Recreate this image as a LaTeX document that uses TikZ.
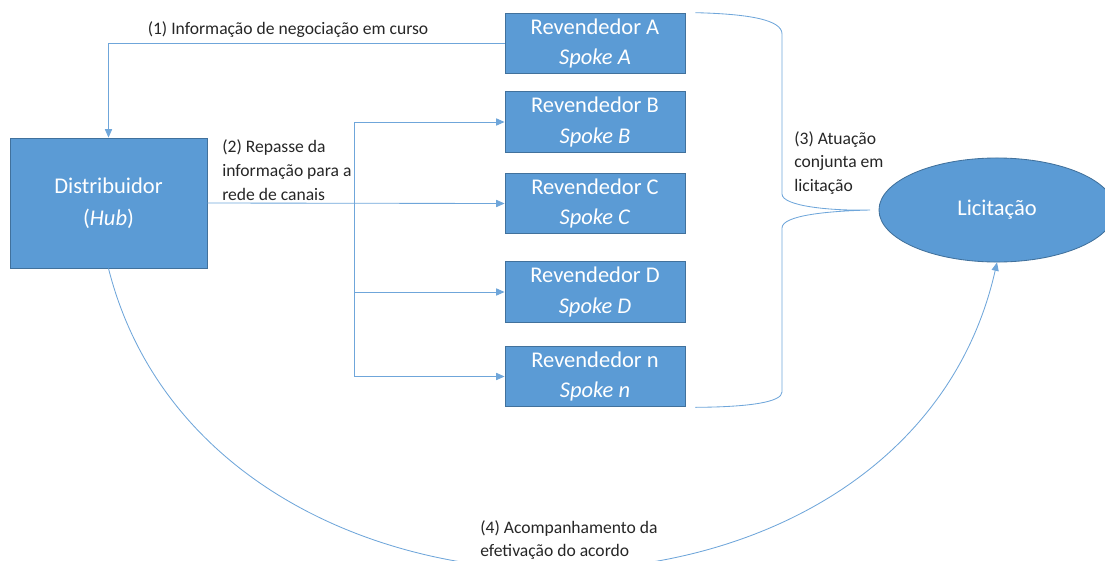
\documentclass[tikz,border=0pt]{standalone}
\usepackage{fontspec}
\setmainfont{Carlito}
\usepackage{tikz}
\usetikzlibrary{positioning,arrows.meta,shapes.geometric,calc}
\definecolor{officeblue}{HTML}{5B9BD5}
\definecolor{officeedge}{HTML}{41719C}
\definecolor{lineblue}{HTML}{6FA6DA}
\definecolor{labelink}{HTML}{262626}
\tikzset{
  hs/.style={align=center, text=white, inner sep=0pt},
  hs box/.style={hs, draw=officeedge, fill=officeblue, line width=0.6pt,
                 font=\fontsize{16}{22}\selectfont},
  hs spoke/.style={hs box, minimum width=4.5cm, minimum height=1.52cm},
  hs hub/.style={hs box, minimum width=4.92cm, minimum height=3.25cm,
                 font=\fontsize{16}{22.7}\selectfont},
  hs oval/.style={hs box, ellipse, minimum width=5.9cm, minimum height=2.6cm,
                  font=\fontsize{16}{22}\selectfont},
  hs arr/.style={-{Triangle[length=2.1mm, width=1.8mm]}, line width=0.6pt, lineblue},
  hs line/.style={line width=0.6pt, lineblue},
  hs label/.style={font=\fontsize{12.5}{17}\selectfont, text=labelink, align=left, inner sep=0pt},
}
\begin{document}
\begin{tikzpicture}[x=0.025cm, y=-0.025cm]
  \useasboundingbox (0,0) rectangle (1105,560);
  % hub and spokes
  \node[hs hub] (hub) at (108.5,203) {Distribuidor\\(\textit{Hub})};
  \node[hs spoke] (spA) at (595,43.5)  {Revendedor A\\\textit{Spoke A}};
  \node[hs spoke] (spB) at (595,122)   {Revendedor B\\\textit{Spoke B}};
  \node[hs spoke] (spC) at (595,203.5) {Revendedor C\\\textit{Spoke C}};
  \node[hs spoke] (spD) at (595,292)   {Revendedor D\\\textit{Spoke D}};
  \node[hs spoke] (spN) at (595,376.5) {Revendedor n\\\textit{Spoke n}};
  \node[hs oval] (bid) at (997,210) {Licitação};
  % (1) spoke A back to the hub
  \draw[hs arr] (spA.west) -| (hub.north);
  \node[hs label] (l1) at (288,30) {(1) Informação de negociação em curso};
  % (2) hub out to the other spokes
  \coordinate (fork) at (354,203);
  \draw[hs arr] (hub.east) -- (spC.west);
  \foreach \s in {spB,spD,spN} \draw[hs arr] (fork) |- (\s.west);
  \node[hs label, anchor=west] (l2) at (222,170) {(2) Repasse da\\informação para a\\rede de canais};
  % (3) brace towards the bid
  \coordinate (brTop) at ([xshift=7pt]spA.north east);
  \coordinate (brBot) at ([xshift=7pt]spN.south east);
  \coordinate (brTip) at ([xshift=-6]bid.west);
  \draw[hs line] (brTop) .. controls (750,14) and (782,20) .. (782,34) -- (782,194)
     .. controls (782,206) and (830,211) .. (brTip)
     .. controls (830,211) and (782,215) .. (782,228) -- (782,392)
     .. controls (782,402) and (750,407) .. (brBot);
  \node[hs label, anchor=west] (l3) at (794,163) {(3) Atuação\\conjunta em\\licitação};
  % (4) hub follows the bid
  \draw[hs arr] (hub.south) .. controls (210,670) and (905,670) .. (bid.south);
  \node[hs label, anchor=west] (l4) at (480,540) {(4) Acompanhamento da\\efetivação do acordo};
\end{tikzpicture}
\end{document}
